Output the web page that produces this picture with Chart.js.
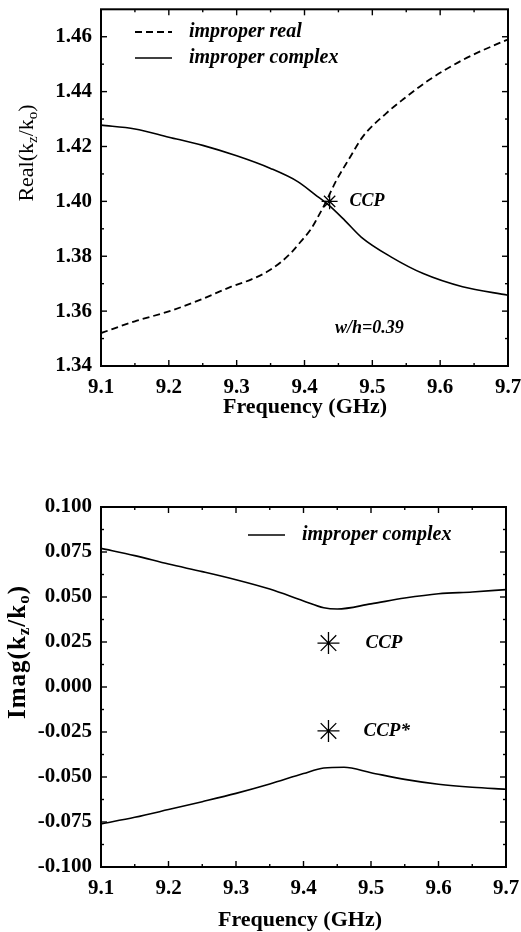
<!DOCTYPE html>
<html>
<head>
<meta charset="utf-8">
<script src="https://cdn.jsdelivr.net/npm/chart.js@4.4.1/dist/chart.umd.min.js"></script>
<style>
  html, body { margin: 0; padding: 0; background: #fff; }
  #wrap { position: relative; width: 521px; height: 932px; }
  canvas { position: absolute; left: 0; }
  #realChart { top: 0; }
  #imagChart { top: 460px; }
</style>
</head>
<body>
<div id="wrap">
  <canvas id="realChart" width="521" height="440"></canvas>
  <canvas id="imagChart" width="521" height="472"></canvas>
</div>
<script>
// ---- axis ticks ----
const freqTicks = [9.1, 9.2, 9.3, 9.4, 9.5, 9.6, 9.7];
const freqTickLabels = ['9.1', '9.2', '9.3', '9.4', '9.5', '9.6', '9.7'];
const realTicks = [1.34, 1.36, 1.38, 1.40, 1.42, 1.44, 1.46];
const realTickLabels = ['1.34', '1.36', '1.38', '1.40', '1.42', '1.44', '1.46'];
const imagTicks = [-0.100, -0.075, -0.050, -0.025, 0.000, 0.025, 0.050, 0.075, 0.100];
const imagTickLabels = ['-0.100', '-0.075', '-0.050', '-0.025', '0.000', '0.025', '0.050', '0.075', '0.100'];

// ---- Real(kz/k0): improper real mode ----
const improperRealFreq  = [9.10, 9.15, 9.20, 9.246, 9.292, 9.321, 9.346, 9.365, 9.380, 9.394, 9.409, 9.418, 9.432, 9.446, 9.466, 9.486, 9.52, 9.545, 9.584, 9.633, 9.69, 9.70];
const improperRealValue = [1.3520, 1.3563, 1.3599, 1.3641, 1.3689, 1.3715, 1.3745, 1.3778, 1.3812, 1.3852, 1.3897, 1.3935, 1.4000, 1.4072, 1.4156, 1.4236, 1.4320, 1.4371, 1.4443, 1.4515, 1.4580, 1.4590];

// ---- Real(kz/k0): improper complex mode ----
const complexRealFreq  = [9.10, 9.15, 9.20, 9.25, 9.30, 9.35, 9.39, 9.416, 9.435, 9.46, 9.484, 9.528, 9.575, 9.633, 9.70];
const complexRealValue = [1.4278, 1.4264, 1.4234, 1.4204, 1.4166, 1.4120, 1.4072, 1.4024, 1.3988, 1.3929, 1.3869, 1.3797, 1.3737, 1.3689, 1.3658];

// ---- Imag(kz/k0): improper complex pair ----
const complexImagFreq     = [9.10, 9.15, 9.20, 9.25, 9.30, 9.35, 9.40, 9.43, 9.45, 9.50, 9.55, 9.60, 9.65, 9.70];
const complexImagUpper    = [0.0770, 0.0730, 0.0683, 0.0641, 0.0596, 0.0544, 0.0478, 0.0440, 0.0433, 0.0462, 0.0494, 0.0518, 0.0528, 0.0541];
const complexImagLowFreq  = [9.10, 9.15, 9.20, 9.25, 9.30, 9.35, 9.40, 9.43, 9.46, 9.50, 9.55, 9.60, 9.65, 9.70];
const complexImagLower    = [-0.0761, -0.0724, -0.0681, -0.0637, -0.0591, -0.0539, -0.0481, -0.0450, -0.0446, -0.0476, -0.0513, -0.0540, -0.0557, -0.0568];

// ---- complex conjugate points ----
const ccpFreq = 9.437;
const ccpReal = 1.400;
const ccpImag = 0.0244;
const ccpConjImag = -0.0244;

const SERIF = '"Liberation Serif", "Times New Roman", serif';
const pts = (xs, ys) => xs.map((x, i) => ({ x, y: ys[i] }));
const midpoints = a => a.slice(1).map((v, i) => (v + a[i]) / 2);

// Frame, inward tick marks, legend, notes and axis titles
const decor = {
  id: 'decor',
  afterDatasetsDraw(chart, args, o) {
    const { ctx, chartArea: a, scales: { x, y } } = chart;
    ctx.save();
    ctx.strokeStyle = '#000';
    ctx.fillStyle = '#000';

    // inward ticks on all four sides
    ctx.lineWidth = 1.4;
    const xt = (vals, len) => vals.forEach(v => {
      const px = x.getPixelForValue(v);
      ctx.beginPath(); ctx.moveTo(px, a.bottom); ctx.lineTo(px, a.bottom - len); ctx.stroke();
      ctx.beginPath(); ctx.moveTo(px, a.top); ctx.lineTo(px, a.top + len); ctx.stroke();
    });
    const yt = (vals, len) => vals.forEach(v => {
      const py = y.getPixelForValue(v);
      ctx.beginPath(); ctx.moveTo(a.left, py); ctx.lineTo(a.left + len, py); ctx.stroke();
      ctx.beginPath(); ctx.moveTo(a.right, py); ctx.lineTo(a.right - len, py); ctx.stroke();
    });
    xt(o.xMajor, 6); xt(o.xMinor, 3);
    yt(o.yMajor, 6); yt(o.yMinor, 3);

    // frame
    ctx.lineWidth = 2;
    ctx.strokeRect(a.left, a.top, a.right - a.left, a.bottom - a.top);

    // legend
    ctx.font = 'italic bold 20px ' + SERIF;
    ctx.textBaseline = 'middle';
    ctx.textAlign = 'left';
    (o.legend || []).forEach(e => {
      const ds = chart.data.datasets[e.ds];
      ctx.save();
      ctx.lineWidth = ds.borderWidth;
      ctx.setLineDash(ds.borderDash || []);
      ctx.beginPath(); ctx.moveTo(e.x1, e.y); ctx.lineTo(e.x2, e.y); ctx.stroke();
      ctx.restore();
      ctx.fillText(ds.label, e.tx, e.y);
    });

    // notes beside the conjugate points and free notes
    (o.notes || []).forEach(n => {
      ctx.font = n.font;
      let px = n.x, py = n.y;
      if (n.ds !== undefined) {
        const el = chart.getDatasetMeta(n.ds).data[0];
        px = el.x + n.dx; py = el.y;
      }
      ctx.fillText(n.text, px, py);
    });

    // x title
    ctx.font = 'bold 22px ' + SERIF;
    ctx.textAlign = 'center';
    ctx.fillText(o.xTitle.text, o.xTitle.x, o.xTitle.y);

    // y title with subscripts, rotated
    const t = o.yTitle;
    ctx.translate(t.x, t.y);
    ctx.rotate(-Math.PI / 2);
    ctx.letterSpacing = (t.spacing || 0) + 'px';
    const main = t.weight + ' ' + t.size + 'px ' + SERIF;
    const sub = t.weight + ' ' + Math.round(t.size * 0.68) + 'px ' + SERIF;
    let w = 0;
    t.parts.forEach(p => { ctx.font = p.sub ? sub : main; w += ctx.measureText(p.t).width; });
    let cx = -w / 2;
    ctx.textAlign = 'left';
    t.parts.forEach(p => {
      ctx.font = p.sub ? sub : main;
      ctx.fillText(p.t, cx, p.sub ? 6 : 0);
      cx += ctx.measureText(p.t).width;
    });
    ctx.restore();
  }
};

function axes(yMin, yMax, yTicks, yLabels, xHeight) {
  const tickFont = { family: SERIF, size: 21, weight: 'bold' };
  return {
    x: {
      type: 'linear', min: 9.1, max: 9.7,
      afterBuildTicks: s => { s.ticks = freqTicks.map(v => ({ value: v })); },
      afterFit: s => { s.height = xHeight; s.paddingLeft = 0; s.paddingRight = 0; },
      grid: { display: false, drawTicks: false },
      border: { display: false },
      ticks: { font: tickFont, color: '#000', padding: 9, autoSkip: false, maxRotation: 0,
               callback: (v, i) => freqTickLabels[i] }
    },
    y: {
      type: 'linear', min: yMin, max: yMax,
      afterBuildTicks: s => { s.ticks = yTicks.map(v => ({ value: v })); },
      afterFit: s => { s.width = 101; s.paddingTop = 0; s.paddingBottom = 0; },
      grid: { display: false, drawTicks: false },
      border: { display: false },
      ticks: { font: tickFont, color: '#000', padding: 9, autoSkip: false,
               callback: (v, i) => yLabels[i] }
    }
  };
}

const common = {
  responsive: false, animation: false, devicePixelRatio: 1,
  events: [],
  elements: { point: { radius: 0 } }
};

// ---- Real part ----
new Chart(document.getElementById('realChart'), {
  type: 'line',
  data: {
    datasets: [
      { label: 'improper real', data: pts(improperRealFreq, improperRealValue),
        borderColor: '#000', borderWidth: 1.8, borderDash: [7, 4], cubicInterpolationMode: 'monotone', pointRadius: 0 },
      { label: 'improper complex', data: pts(complexRealFreq, complexRealValue),
        borderColor: '#000', borderWidth: 1.6, cubicInterpolationMode: 'monotone', pointRadius: 0 },
      { type: 'scatter', label: 'CCP', data: [{ x: ccpFreq, y: ccpReal }],
        pointStyle: 'star', pointRadius: 8, borderColor: '#000', borderWidth: 1.3, showLine: false }
    ]
  },
  options: Object.assign({}, common, {
    layout: { padding: { top: 6, right: 13, left: 0, bottom: 0 } },
    scales: axes(1.34, 1.47, realTicks, realTickLabels, 74),
    plugins: {
      legend: { display: false }, tooltip: { enabled: false },
      decor: {
        xMajor: freqTicks, xMinor: midpoints(freqTicks),
        yMajor: realTicks, yMinor: midpoints(realTicks),
        legend: [
          { ds: 0, x1: 135, x2: 172, y: 32, tx: 189 },
          { ds: 1, x1: 135, x2: 172, y: 58, tx: 189 }
        ],
        notes: [
          { ds: 2, dx: 20, text: 'CCP', font: 'italic bold 18px ' + SERIF },
          { x: 335, y: 328, text: 'w/h=0.39', font: 'italic bold 18px ' + SERIF }
        ],
        xTitle: { text: 'Frequency (GHz)', x: 305, y: 407 },
        yTitle: { x: 27, y: 153, size: 22, weight: 'normal', spacing: 0,
                  parts: [{ t: 'Real(k' }, { t: 'z', sub: true }, { t: '/k' }, { t: 'o', sub: true }, { t: ')' }] }
      }
    }
  }),
  plugins: [decor]
});

// ---- Imaginary part ----
new Chart(document.getElementById('imagChart'), {
  type: 'line',
  data: {
    datasets: [
      { label: 'improper complex', data: pts(complexImagFreq, complexImagUpper),
        borderColor: '#000', borderWidth: 1.6, cubicInterpolationMode: 'monotone', pointRadius: 0 },
      { label: 'improper complex', data: pts(complexImagLowFreq, complexImagLower),
        borderColor: '#000', borderWidth: 1.6, cubicInterpolationMode: 'monotone', pointRadius: 0 },
      { type: 'scatter', label: 'CCP', data: [{ x: ccpFreq, y: ccpImag }],
        pointStyle: 'star', pointRadius: 11, borderColor: '#000', borderWidth: 1.3, showLine: false },
      { type: 'scatter', label: 'CCP*', data: [{ x: ccpFreq, y: ccpConjImag }],
        pointStyle: 'star', pointRadius: 11, borderColor: '#000', borderWidth: 1.3, showLine: false }
    ]
  },
  options: Object.assign({}, common, {
    layout: { padding: { top: 47, right: 15, left: 0, bottom: 0 } },
    scales: axes(-0.1, 0.1, imagTicks, imagTickLabels, 65),
    plugins: {
      legend: { display: false }, tooltip: { enabled: false },
      decor: {
        xMajor: freqTicks, xMinor: midpoints(freqTicks),
        yMajor: imagTicks, yMinor: midpoints(imagTicks),
        legend: [ { ds: 0, x1: 248, x2: 285, y: 75, tx: 302 } ],
        notes: [
          { ds: 2, dx: 37, text: 'CCP', font: 'italic bold 19px ' + SERIF },
          { ds: 3, dx: 35, text: 'CCP*', font: 'italic bold 19px ' + SERIF }
        ],
        xTitle: { text: 'Frequency (GHz)', x: 300, y: 460 },
        yTitle: { x: 19, y: 192, size: 25, weight: 'bold', spacing: 1,
                  parts: [{ t: 'Imag(k' }, { t: 'z', sub: true }, { t: '/k' }, { t: 'o', sub: true }, { t: ')' }] }
      }
    }
  }),
  plugins: [decor]
});
</script>
</body>
</html>
